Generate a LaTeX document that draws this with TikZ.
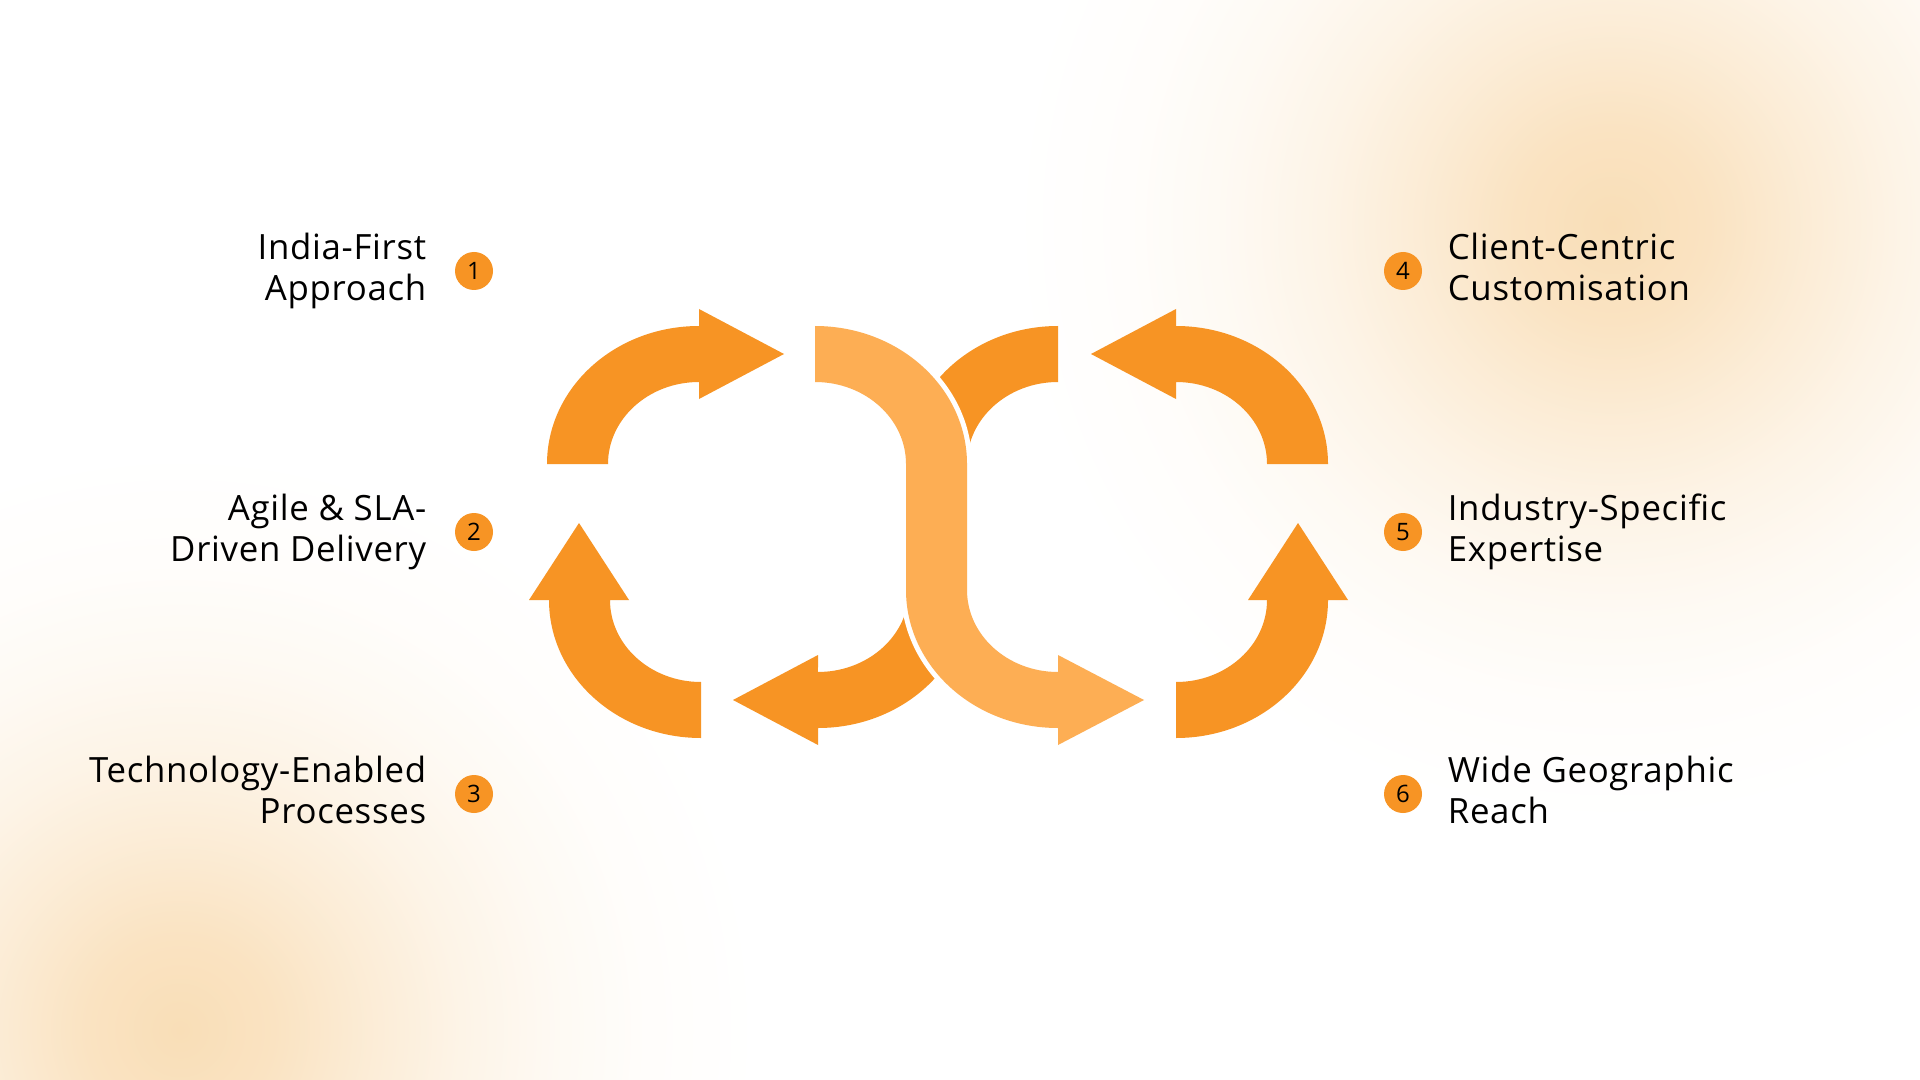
\documentclass[tikz,border=0pt]{standalone}
\usepackage{fontspec}
\setmainfont{Open Sans}[LetterSpace=2]
\usepackage{tikz}
\usetikzlibrary{positioning}
\definecolor{arrowdark}{RGB}{247,148,36}
\definecolor{arrowlight}{RGB}{253,174,84}
\definecolor{glowpeach}{RGB}{249,222,183}
\pgfdeclareradialshading{peachglow}{\pgfpoint{0bp}{0bp}}{color(0bp)=(glowpeach); color(4bp)=(glowpeach!85!white); color(8bp)=(glowpeach!58!white); color(12bp)=(glowpeach!34!white); color(16bp)=(glowpeach!17!white); color(20bp)=(glowpeach!6!white); color(25bp)=(white); color(50bp)=(white)}
\tikzstyle{numdot} = [circle, fill=arrowdark, minimum size=19pt, inner sep=0pt,
    font=\fontsize{12}{14}\selectfont]
\tikzstyle{lefttext} = [align=right, inner sep=0pt, yshift=-0.8pt,
    font=\fontsize{17.4}{20.3}\selectfont,
    execute at begin node=\strut, execute at end node=\strut]
\tikzstyle{righttext} = [align=left, inner sep=0pt, yshift=-0.8pt,
    font=\fontsize{17.4}{20.3}\selectfont,
    execute at begin node=\strut, execute at end node=\strut]
\tikzstyle{bandarc} = [fill=arrowdark]
\tikzstyle{swoop} = [fill=arrowlight, preaction={draw=white, line width=5pt}]

\begin{document}
\begin{tikzpicture}[x=0.5pt, y=-0.5pt]
            % Background
        \useasboundingbox (0,0) rectangle (1920,1080);
        \fill[white] (0,0) rectangle (1920,1080);
        \shade[shading=peachglow] (1612,225) circle [radius=600];
        \shade[shading=peachglow] (180,1030) circle [radius=580];
            % Arrows
        \fill[bandarc] (547,464) arc[start angle=180, end angle=270, x radius=152, y radius=138] -- (699,309) -- (784,354) -- (699,399) -- (699,382) arc[start angle=270, end angle=180, x radius=91, y radius=82] -- cycle;
        \fill[bandarc] (701,738) arc[start angle=90, end angle=180, x radius=152, y radius=138] -- (529,600) -- (579,523) -- (629,600) -- (610,600) arc[start angle=180, end angle=90, x radius=91, y radius=82] -- cycle;
        \fill[bandarc] (907.6,604.2) arc[start angle=10, end angle=90, x radius=91, y radius=82] -- (818,655) -- (733,700) -- (818,745) -- (818,728) arc[start angle=90, end angle=10, x radius=152, y radius=138] -- cycle;
        \fill[bandarc] (1058,326) -- (1058,382) arc[start angle=270, end angle=180, x radius=91, y radius=82] -- (906,464) arc[start angle=180, end angle=270, x radius=152, y radius=138] -- cycle;
        \fill[bandarc] (1328,464) arc[start angle=360, end angle=270, x radius=152, y radius=138] -- (1176,309) -- (1091,354) -- (1176,399) -- (1176,382) arc[start angle=270, end angle=360, x radius=91, y radius=82] -- cycle;
        \fill[bandarc] (1176,738) arc[start angle=90, end angle=0, x radius=152, y radius=138] -- (1348,600) -- (1298,523) -- (1248,600) -- (1267,600) arc[start angle=0, end angle=90, x radius=91, y radius=82] -- cycle;
        \fill[swoop] (815,326) arc[start angle=270, end angle=360, x radius=152, y radius=138] -- (967,590) arc[start angle=180, end angle=90, x radius=91, y radius=82] -- (1058,655) -- (1144,700) -- (1058,745) -- (1058,728) arc[start angle=90, end angle=180, x radius=152, y radius=138] -- (906,464) arc[start angle=360, end angle=270, x radius=91, y radius=82] -- cycle;
            % Nodes
        \node [numdot] (n1) at (474,271) {1};
        \node [numdot] (n2) at (474,532) {2};
        \node [numdot] (n3) at (474,794) {3};
        \node [numdot] (n4) at (1403,271) {4};
        \node [numdot] (n5) at (1403,532) {5};
        \node [numdot] (n6) at (1403,794) {6};
        \node [lefttext, left=14pt of n1] (t1) {India-First\\Approach};
        \node [lefttext, left=14pt of n2] (t2) {Agile \& SLA-\\Driven Delivery};
        \node [lefttext, left=14pt of n3] (t3) {Technology-Enabled\\Processes};
        \node [righttext, right=12.5pt of n4] (t4) {Client-Centric\\Customisation};
        \node [righttext, right=12.5pt of n5] (t5) {Industry-Specific\\Expertise};
        \node [righttext, right=12.5pt of n6] (t6) {Wide Geographic\\Reach};
    \end{tikzpicture}
\end{document}
